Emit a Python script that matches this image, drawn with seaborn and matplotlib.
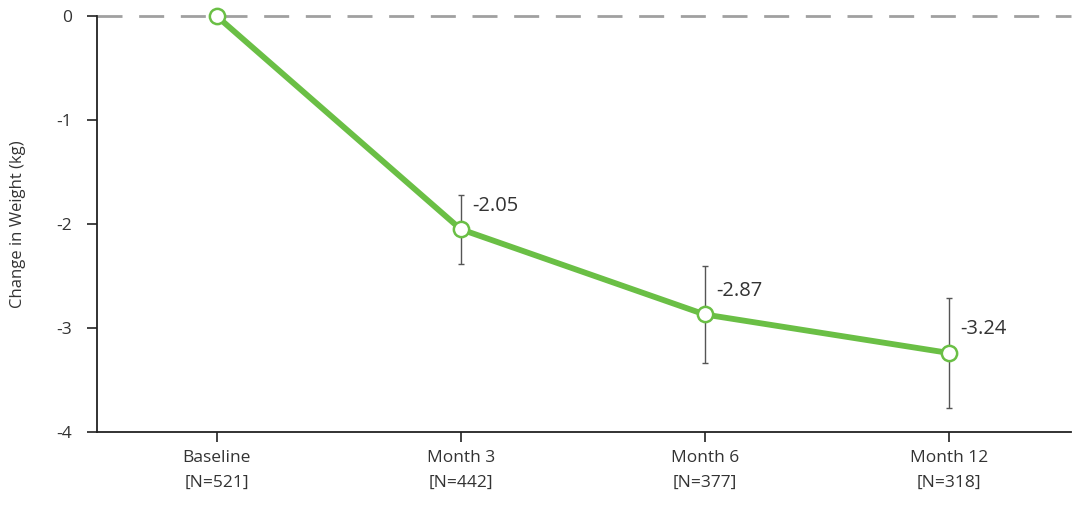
import matplotlib
matplotlib.use("Agg")
import matplotlib.pyplot as plt
import pandas as pd
import seaborn as sns

# Data
visits = ["Baseline\n[N=521]", "Month 3\n[N=442]", "Month 6\n[N=377]", "Month 12\n[N=318]"]
change_kg = [0.0, -2.05, -2.87, -3.24]
err_lo = [0.0, 0.33, 0.47, 0.53]
err_hi = [0.0, 0.33, 0.47, 0.53]
point_labels = ["", "-2.05", "-2.87", "-3.24"]

GREEN = "#6abf45"

sns.set_theme(style="white")
plt.rcParams["font.family"] = ["Open Sans", "DejaVu Sans"]

df = pd.DataFrame({"visit": visits, "change": change_kg, "pos": range(len(visits))})

fig = plt.figure(figsize=(10.8, 5.05), dpi=100)
ax = fig.add_axes([0.0898, 0.1446, 0.9017, 0.8237])

# reference line at zero
ax.axhline(0, color="#a0a0a0", lw=2, ls=(0, (9, 6)), zorder=1, clip_on=False)

# error bars (only for follow-up visits)
ax.errorbar(df["pos"][1:], df["change"][1:], yerr=[err_lo[1:], err_hi[1:]],
            fmt="none", ecolor="#555555", elinewidth=1, capsize=2.5,
            capthick=1, zorder=2)

sns.lineplot(data=df, x="pos", y="change", ax=ax, color=GREEN, lw=4.2,
             marker="o", markersize=11, markerfacecolor="white",
             markeredgecolor=GREEN, markeredgewidth=1.8, zorder=3, clip_on=False)

for x, y, txt in zip(df["pos"], df["change"], point_labels):
    if txt:
        ax.annotate(txt, (x, y), xytext=(8, 17), textcoords="offset points",
                    ha="left", va="center", fontsize=14.5, color="#333333")

ax.set_xlim(-0.49, 3.5)
ax.set_ylim(-4, 0)
ax.set_xticks(df["pos"])
ax.set_xticklabels(visits, linespacing=1.75)
ax.set_yticks([0, -1, -2, -3, -4])
ax.set_yticklabels(["0", "-1", "-2", "-3", "-4"])
ax.set_xlabel("")
ax.set_ylabel("Change in Weight (kg)", fontsize=12, color="#333333", labelpad=22)

for side in ["top", "right"]:
    ax.spines[side].set_visible(False)
for side in ["left", "bottom"]:
    ax.spines[side].set_color("#222222")
    ax.spines[side].set_linewidth(1.3)

ax.tick_params(axis="both", which="major", direction="out", length=7, width=1.2,
               color="#222222", labelsize=12.5, labelcolor="#333333", pad=6,
               left=True, bottom=True)
ax.tick_params(axis="y", pad=11)

fig.savefig("out.png", dpi=100)
plt.close(fig)
